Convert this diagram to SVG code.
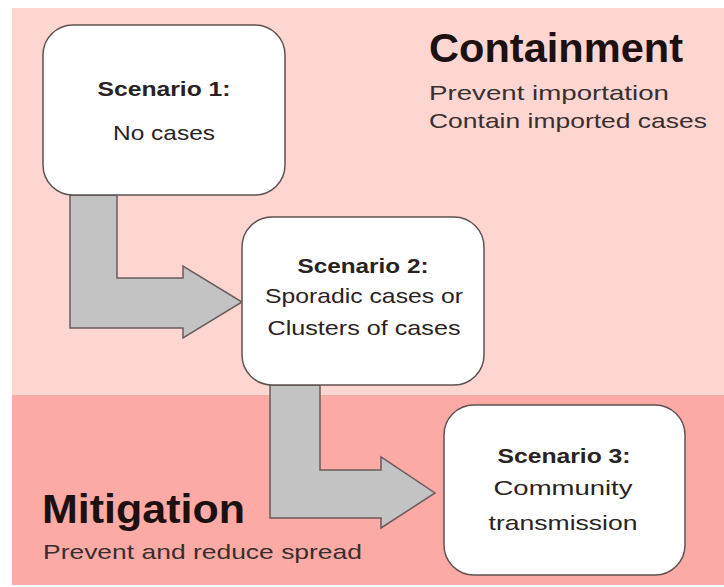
<svg xmlns="http://www.w3.org/2000/svg" width="724" height="587" viewBox="0 0 724 587">
<style>
.box{fill:#ffffff;stroke:#5e5252;stroke-width:1.5}
.arrow{fill:#c3c3c3;stroke:#6a5c5c;stroke-width:1.5;stroke-linejoin:miter}
text{font-family:"Liberation Sans",Arial,sans-serif;fill:#2a2222}
.t{font-size:21px;text-anchor:middle}
.tb{font-size:20px;font-weight:bold;text-anchor:middle}
.h{font-size:40px;font-weight:bold;fill:#1c1010}
.s{font-size:21px;fill:#3a2e2e}
</style>
<rect x="0" y="0" width="724" height="587" fill="#ffffff"/>
<g id="containment">
<rect x="12" y="8" width="712" height="387" fill="#fdd6d2"/>
<text class="h" x="429" y="62" textLength="254" lengthAdjust="spacingAndGlyphs">Containment</text>
<text class="s" x="429" y="100" textLength="240" lengthAdjust="spacingAndGlyphs">Prevent importation</text>
<text class="s" x="429" y="128" textLength="278" lengthAdjust="spacingAndGlyphs">Contain imported cases</text>
</g>
<g id="mitigation">
<rect x="12" y="395" width="712" height="190" fill="#fcaaa5"/>
<text class="h" x="42" y="523" textLength="203" lengthAdjust="spacingAndGlyphs">Mitigation</text>
<text class="s" x="43" y="559" textLength="319" lengthAdjust="spacingAndGlyphs">Prevent and reduce spread</text>
</g>
<g id="connectors">
<polygon class="arrow" points="70,195 117,195 117,278 183,278 183,266 242,302 183,338 183,328 70,328"/>
<polygon class="arrow" points="270,385 320,385 320,470 381,470 381,457 435,493 381,528 381,518 270,518"/>
</g>
<g id="scenario1">
<rect class="box" x="43" y="25" width="242" height="170" rx="30" ry="30"/>
<text class="tb" x="164" y="96" textLength="133" lengthAdjust="spacingAndGlyphs">Scenario 1:</text>
<text class="t" x="164" y="140" textLength="102" lengthAdjust="spacingAndGlyphs">No cases</text>
</g>
<g id="scenario2">
<rect class="box" x="242" y="217" width="242" height="168" rx="30" ry="30"/>
<text class="tb" x="363" y="273" textLength="131" lengthAdjust="spacingAndGlyphs">Scenario 2:</text>
<text class="t" x="364" y="303" textLength="198" lengthAdjust="spacingAndGlyphs">Sporadic cases or</text>
<text class="t" x="364" y="335" textLength="193" lengthAdjust="spacingAndGlyphs">Clusters of cases</text>
</g>
<g id="scenario3">
<rect class="box" x="444" y="405" width="241" height="170" rx="30" ry="30"/>
<text class="tb" x="564" y="463" textLength="133" lengthAdjust="spacingAndGlyphs">Scenario 3:</text>
<text class="t" x="563" y="495" textLength="139" lengthAdjust="spacingAndGlyphs">Community</text>
<text class="t" x="563" y="530" textLength="149" lengthAdjust="spacingAndGlyphs">transmission</text>
</g>
</svg>
